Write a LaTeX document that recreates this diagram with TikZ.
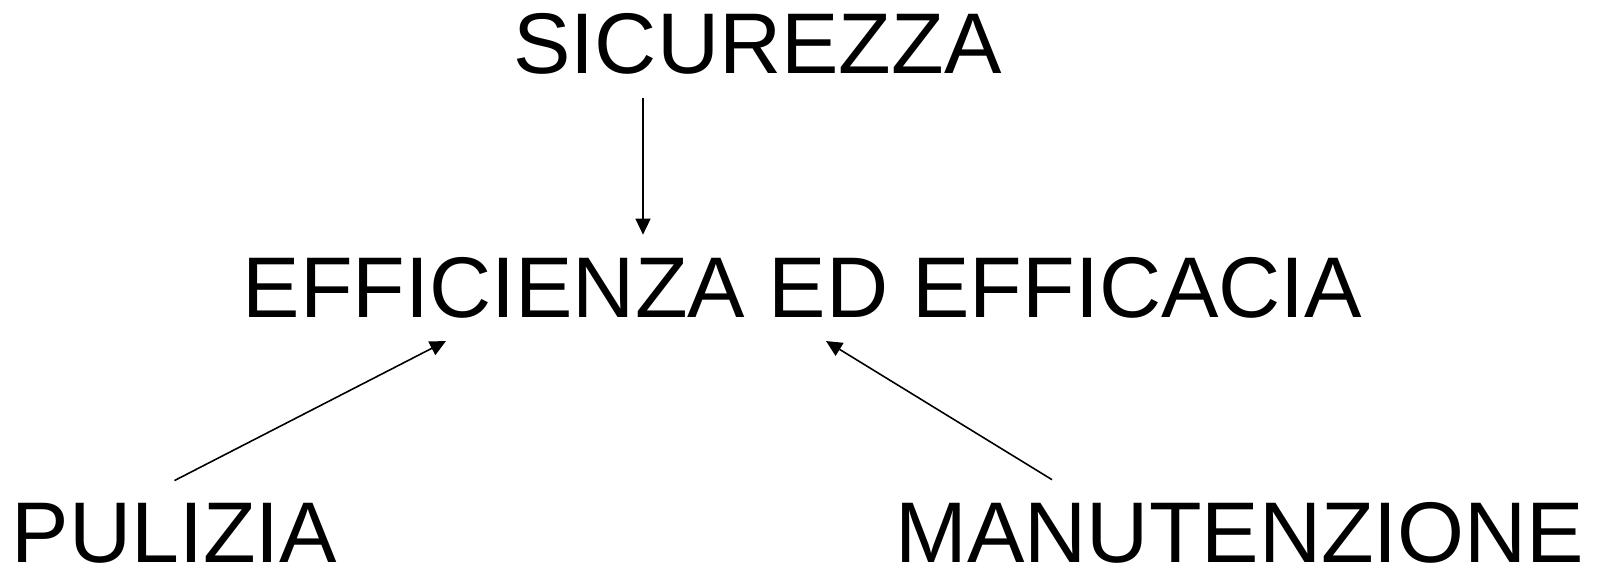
\documentclass[tikz,border=0pt]{standalone}
\usepackage{fontspec}
\setmainfont{Liberation Sans}
\usetikzlibrary{arrows.meta,positioning}

\begin{document}
\begin{tikzpicture}[
  word/.style={inner sep=0.22cm, anchor=base, font=\fontsize{24.5}{29}\selectfont},
  link/.style={-{Triangle[length=0.16cm,width=0.15cm]}, line width=0.45pt},
]
  \useasboundingbox (0,0) rectangle (15.98,5.69);
  \node[word] (sicurezza) at (7.575,4.95) {SICUREZZA};
  \node[word] (efficienza) at (8.025,2.515) {EFFICIENZA ED EFFICACIA};
  \node[word] (pulizia) at (1.745,0.065) {PULIZIA};
  \node[word] (manutenzione) at (12.40,0.065) {MANUTENZIONE};

  \draw[link] ([xshift=-1.145cm]sicurezza.south) -- ([xshift=-1.595cm]efficienza.north);
  \draw[link] (pulizia.north) -- ([xshift=-3.565cm]efficienza.south);
  \draw[link] ([xshift=-1.88cm]manutenzione.north) -- ([xshift=0.235cm]efficienza.south);
\end{tikzpicture}
\end{document}
